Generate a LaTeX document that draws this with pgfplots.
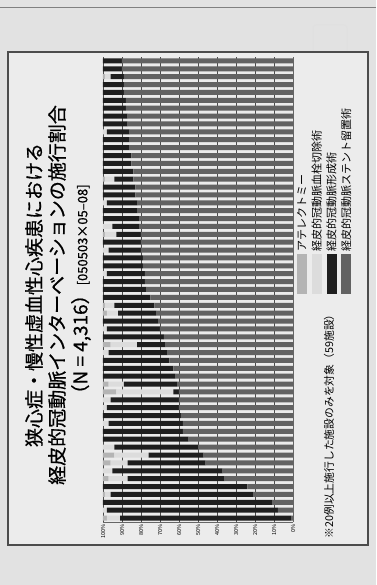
\documentclass[border=0pt]{standalone}
\usepackage{pgfplots}
\pgfplotsset{compat=1.18}
\usepackage{pgfplotstable}
\usepackage{fontspec}
\setmainfont{Noto Sans CJK JP}
\newfontfamily\titlefont{Noto Sans CJK JP}[FakeBold=0.7]

\definecolor{paper}{HTML}{E2E2E2}
\definecolor{slide}{HTML}{ECECEC}
\definecolor{stent}{HTML}{626262}
\definecolor{ptca}{HTML}{1E1E1E}
\definecolor{thromb}{HTML}{DCDCDC}
\definecolor{ather}{HTML}{B4B4B4}

% share (%) of each procedure per hospital: s = stent, p = PTCA,
% t = thrombectomy, a = atherectomy
\pgfplotstableread{
i s p t a
1 1 90 7 2
2 8 90 2 0
3 11 89 0 0
4 21 75 3 1
5 24 76 0 0
6 36 51 10 3
7 37 58 5 0
8 46 41 9 4
9 47 29 18 6
10 50 44 6 0
11 55 45 0 0
12 58 42 0 0
13 58 39 3 0
14 59 41 0 0
15 60 38 2 0
16 60 36 4 0
17 60 3 30 7
18 61 28 8 3
19 62 38 0 0
20 63 37 0 0
21 65 35 0 0
22 66 31 3 0
23 67 15 14 4
24 68 32 0 0
25 70 28 2 0
26 71 29 0 0
27 72 20 6 2
28 73 21 5 1
29 75 25 0 0
30 77 23 0 0
31 78 22 0 0
32 78 20 2 0
33 79 21 0 0
34 79 21 0 0
35 80 17 3 0
36 80 20 0 0
37 80 13 6 1
38 81 14 5 0
39 81 19 0 0
40 82 18 0 0
41 82 16 2 0
42 83 17 0 0
43 83 17 0 0
44 84 10 5 1
45 84 16 0 0
46 85 15 0 0
47 85 15 0 0
48 86 14 0 0
49 86 14 0 0
50 86 12 2 0
51 87 13 0 0
52 87 13 0 0
53 88 12 0 0
54 88 12 0 0
55 89 11 0 0
56 89 11 0 0
57 89 7 3 1
58 90 10 0 0
59 90 10 0 0
}\share

\begin{document}
\begin{tikzpicture}[x=1pt,y=1pt]
\begin{scope}[transform canvas={rotate=90}]
  % page and slide
  \fill[paper] (0,0) rectangle (585,376);
  \draw[black!50, line width=0.8pt] (578,0) -- (578,376);
  \draw[black!12, line width=1pt, rounded corners=3pt] (518,29) rectangle (560,63);
  \fill[slide] (40,8) rectangle (533,368);
  \draw[black!70, line width=1.2pt] (40,8) rectangle (533,368);

  \begin{axis}[
    at={(63pt,83pt)}, anchor=south west,
    scale only axis, width=465pt, height=190pt,
    ybar stacked, bar width=5pt,
    xmin=0.5, xmax=59.5, ymin=0, ymax=100,
    xtick=\empty, ytick={0,10,...,100},
    /pgf/number format/assume math mode=true,
    yticklabel={\pgfmathprintnumber{\tick}\%},
    yticklabel style={font=\fontsize{5.5}{6}\selectfont, xshift=1pt},
    ymajorgrids, grid style={black!70, line width=0.6pt},
    axis x line*=bottom, axis y line*=left,
    axis line style={black!60},
    major tick style={draw=none},
    axis background/.style={fill=white!92!black},
    reverse legend,
    legend image code/.code={\fill[#1,draw=none] (0pt,-5pt) rectangle (40pt,5pt);},
    legend style={at={(0.49,-0.01)}, anchor=north west, draw=none, fill=none,
      font=\fontsize{11}{12}\selectfont, row sep=0pt, inner sep=0pt,
      cells={anchor=west}},
  ]
    \addplot[fill=stent, draw=none] table[x=i, y=s] {\share};
    \addplot[fill=ptca, draw=none] table[x=i, y=p] {\share};
    \addplot[fill=thromb, draw=none] table[x=i, y=t] {\share};
    \addplot[fill=ather, draw=none] table[x=i, y=a] {\share};
    \legend{経皮的冠動脈ステント留置術, 経皮的冠動脈形成術, 経皮的冠動脈血栓切除術, アテレクトミー}
  \end{axis}

  % titles
  \node[font=\titlefont\fontsize{19}{20}\selectfont] at (290,342) {狭心症・慢性虚血性心疾患における};
  \node[font=\titlefont\fontsize{19}{20}\selectfont] at (290,319) {経皮的冠動脈インターベーションの施行割合};
  \node[font=\titlefont\fontsize{19}{20}\selectfont] at (291,295) {（N = 4,316）{\fontsize{13}{14}\selectfont [050503×05–08]}};

  \node[anchor=west, font=\fontsize{10.8}{11}\selectfont] at (43,47) {※20例以上施行した施設のみを対象（59施設）};
\end{scope}
\pgfresetboundingbox
\useasboundingbox (-376,0) rectangle (0,585);
\end{tikzpicture}
\end{document}
